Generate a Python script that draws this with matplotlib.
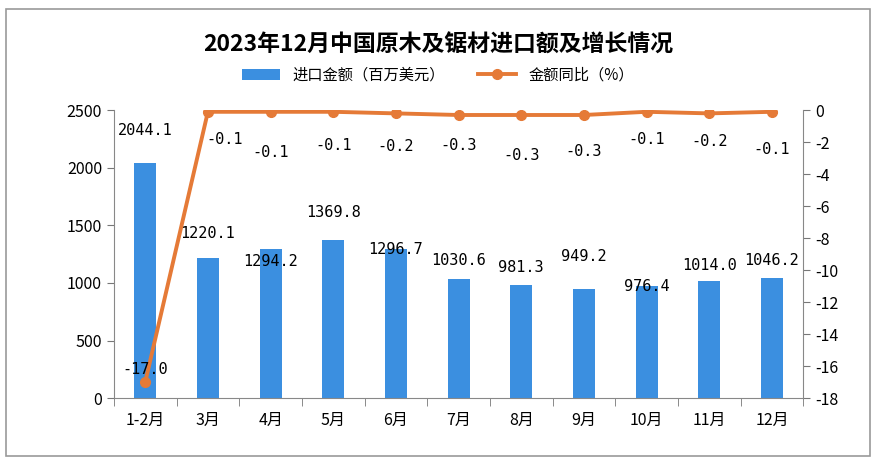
import matplotlib
matplotlib.use('Agg')
import matplotlib.pyplot as plt
from matplotlib.patches import Rectangle
import numpy as np

plt.rcParams['font.family'] = ['Noto Sans CJK SC', 'DejaVu Sans']
plt.rcParams['axes.unicode_minus'] = False

# data
months = ['1-2月', '3月', '4月', '5月', '6月', '7月', '8月', '9月', '10月', '11月', '12月']
import_value = [2044.1, 1220.1, 1294.2, 1369.8, 1296.7, 1030.6, 981.3, 949.2, 976.4, 1014.0, 1046.2]
yoy = [-17.0, -0.1, -0.1, -0.1, -0.2, -0.3, -0.3, -0.3, -0.1, -0.2, -0.1]

bar_color = '#3b8fe0'
line_color = '#e57a37'

# label offsets (points) to mimic the original placement
bar_off = [18, 12, -14, 15, -6, 8, 7, 18, -6, 6, 7]
line_off = [(0, 0), (12, -20), (0, -29), (0, -24), (0, -24), (0, -22), (0, -29), (0, -26), (0, -20), (0, -20), (0, -27)]

fig = plt.figure(figsize=(8.76, 4.63), dpi=100)
fig.patches.append(Rectangle((0.007, 0.015), 0.986, 0.965, transform=fig.transFigure,
                             fill=False, edgecolor='#9a9a9a', linewidth=1.2))

ax = fig.add_axes([0.130, 0.140, 0.787, 0.622])
x = np.arange(len(months))
bars = ax.bar(x, import_value, width=0.35, color=bar_color, label='进口金额（百万美元）', zorder=2)
ax.set_ylim(0, 2500)
ax.set_yticks(range(0, 2501, 500))
ax.set_xlim(-0.5, len(months) - 0.5)
ax.set_xticks(x)
ax.set_xticklabels(months, fontsize=11.5)
ax.set_xticks(np.arange(-0.5, len(months), 1), minor=True)
ax.tick_params(axis='x', which='major', length=0, pad=10)
ax.tick_params(axis='x', which='minor', length=6, color='#777777')
ax.tick_params(axis='y', labelsize=11.5, color='#777777', length=5)
for s in ['top', 'right']:
    ax.spines[s].set_visible(False)
for s in ['left', 'bottom']:
    ax.spines[s].set_color('#888888')

for i, b in enumerate(bars):
    ax.annotate(f'{import_value[i]:.1f}', (b.get_x() + b.get_width() / 2, b.get_height()),
                xytext=(0, bar_off[i]), textcoords='offset points',
                ha='center', va='bottom', fontsize=11, family=['DejaVu Sans Mono'])

ax2 = ax.twinx()
ln, = ax2.plot(x, yoy, color=line_color, linewidth=2.8, marker='o', markersize=7,
               label='金额同比（%）', zorder=3)
ax2.set_ylim(-18, 0)
ax2.set_yticks(range(-18, 1, 2))
ax2.tick_params(axis='y', labelsize=11.5, color='#777777', length=5)
for s in ['top', 'left', 'bottom']:
    ax2.spines[s].set_visible(False)
ax2.spines['right'].set_color('#888888')

for i, v in enumerate(yoy):
    if i == 0:
        ax2.annotate(f'{v:.1f}', (x[i], v), xytext=(0, 4), textcoords='offset points',
                     ha='center', va='bottom', fontsize=11, family=['DejaVu Sans Mono'])
    else:
        ax2.annotate(f'{v:.1f}', (x[i], v), xytext=line_off[i], textcoords='offset points',
                     ha='center', va='center', fontsize=11, family=['DejaVu Sans Mono'])

fig.text(0.5, 0.903, '2023年12月中国原木及锯材进口额及增长情况', ha='center', va='center',
         fontsize=16.5, fontweight='bold')
fig.legend(handles=[bars, ln], loc='center', bbox_to_anchor=(0.5, 0.838), ncol=2,
           frameon=False, fontsize=11, columnspacing=2.2, handlelength=2.5)

fig.savefig('out.png', dpi=100)
